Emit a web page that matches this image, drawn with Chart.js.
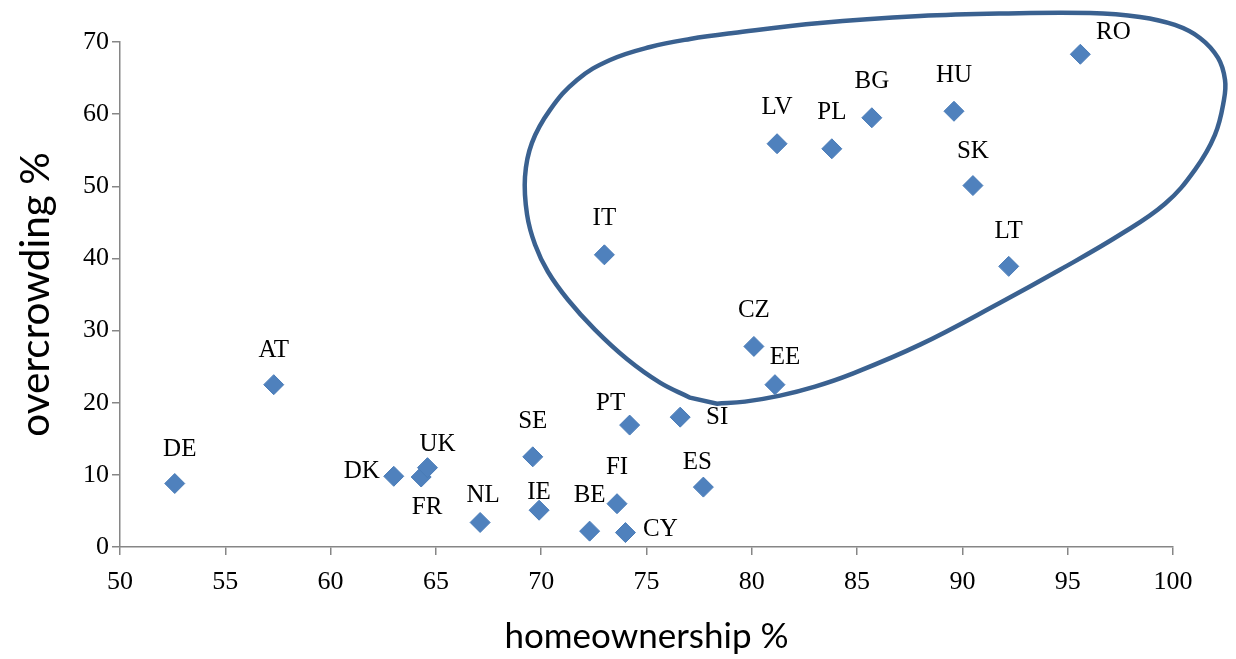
<!DOCTYPE html>
<html>
<head>
<meta charset="utf-8">
<script src="https://cdn.jsdelivr.net/npm/chart.js@4"></script>
<style>
  html, body { margin: 0; padding: 0; background: #ffffff; }
  #wrap { width: 1236px; height: 659px; position: relative; }
</style>
</head>
<body>
<div id="wrap"><canvas id="c"></canvas></div>
<script>
// ---- data ----
const countries = ['DE','AT','DK','FR','UK','NL','SE','IE','BE','FI','CY','ES','PT','SI','IT','CZ','EE','LV','PL','BG','HU','SK','LT','RO'];
const homeownership = [52.6,57.3,63.0,64.3,64.6,67.1,69.6,69.9,72.3,73.6,74.0,77.7,74.2,76.6,73.0,80.1,81.1,81.2,83.8,85.7,89.6,90.5,92.2,95.6];
const overcrowding  = [8.8,22.5,9.8,9.7,11.0,3.4,12.5,5.1,2.2,6.0,2.0,8.3,16.9,18.0,40.5,27.8,22.5,55.9,55.2,59.5,60.4,50.1,38.9,68.3];

// closed outline drawn around the high-overcrowding group (data units, clockwise from the bottom)
const groupX = [78.35,79.68,81.34,83.00,84.66,87.99,91.79,94.63,97.48,99.62,101.04,101.99,102.42,102.47,102.14,101.28,100.09,98.43,96.06,91.79,87.99,83.24,79.11,77.07,75.17,73.27,71.70,70.42,69.56,69.23,69.33,69.71,70.32,71.27,72.55,74.07,75.64,77.07];
const groupY = [19.87,20.15,20.98,22.23,23.89,28.05,33.86,38.43,43.28,47.57,52.28,57.13,61.98,64.75,67.79,70.56,72.36,73.47,74.02,73.95,73.60,72.64,71.25,70.42,69.31,67.51,64.74,60.59,56.02,51.31,46.05,41.89,38.15,34.27,30.12,26.05,22.78,20.70];

const xTicks = [50,55,60,65,70,75,80,85,90,95,100];
const yTicks = [0,10,20,30,40,50,60,70];

// label placement (pixel offsets from marker centre)
const labelOffsets = [[5,-34],[0,-34],[-32,-5],[6,30],[10,-23],[3,-27],[0,-35],[0,-18],[0,-36],[0,-36],[35,-3],[-6,-25],[-19,-22],[37,0],[0,-36],[0,-36],[10,-27],[0,-36],[0,-36],[0,-36],[0,-36],[0,-34],[0,-35],[33,-22]];

// ---- build ----
const points = homeownership.map((x, i) => ({ x: x, y: overcrowding[i] }));
const outline = groupX.map((x, i) => ({ x: x, y: groupY[i] }));

const axisColor = '#868686';
const serif = "'Liberation Serif', 'DejaVu Serif', serif";
const sans = "Lato, 'Open Sans', 'Liberation Sans', sans-serif";

// make the outline a smooth closed loop
const loopPlugin = {
  id: 'closedLoop',
  beforeDatasetDraw(chart, args) {
    if (args.index !== 0) return;
    const line = args.meta.dataset;
    if (line && !line._fullLoop) {
      line._loop = true;
      line._fullLoop = true;
      line._pointsUpdated = false;
      line._segments = undefined;
      line._path = undefined;
    }
  }
};

const labelPlugin = {
  id: 'pointLabels',
  afterDatasetsDraw(chart) {
    const meta = chart.getDatasetMeta(1);
    const ctx = chart.ctx;
    ctx.save();
    ctx.font = "25px " + serif;
    ctx.fillStyle = '#000000';
    ctx.textAlign = 'center';
    ctx.textBaseline = 'middle';
    meta.data.forEach((el, i) => {
      const o = labelOffsets[i];
      ctx.fillText(countries[i], el.x + o[0], el.y + o[1]);
    });
    ctx.restore();
  }
};

new Chart(document.getElementById('c'), {
  type: 'scatter',
  data: {
    datasets: [
      {
        label: 'group',
        data: outline,
        showLine: true,
        tension: 0.4,
        capBezierPoints: false,
        borderColor: '#3A6190',
        borderWidth: 4.5,
        pointRadius: 0,
        fill: false,
        clip: false,
        order: 2
      },
      {
        label: 'countries',
        data: points,
        pointStyle: 'rectRot',
        pointRadius: 10,
        pointBackgroundColor: '#4F81BD',
        pointBorderColor: '#4A7CB8',
        pointBorderWidth: 1,
        showLine: false,
        order: 1
      }
    ]
  },
  options: {
    responsive: true,
    maintainAspectRatio: false,
    animation: false,
    devicePixelRatio: 1,
    layout: { padding: { top: 42, right: 63, left: 0, bottom: 0 } },
    plugins: { legend: { display: false }, tooltip: { enabled: false } },
    scales: {
      x: {
        type: 'linear',
        min: 50, max: 100,
        afterBuildTicks: (s) => { s.ticks = xTicks.map(v => ({ value: v })); },
        afterFit: (s) => { s.height = 112; },
        ticks: { color: '#000000', font: { family: serif, size: 26 }, padding: 12 },
        grid: { drawOnChartArea: false, drawTicks: true, tickLength: 8, color: axisColor, lineWidth: 1.5 },
        border: { display: true, color: axisColor, width: 1.5 },
        title: { display: true, text: 'homeownership %', color: '#000000', font: { family: sans, size: 35 }, padding: { top: 0, bottom: 1.5 } }
      },
      y: {
        type: 'linear',
        min: 0, max: 70,
        afterBuildTicks: (s) => { s.ticks = yTicks.map(v => ({ value: v })); },
        afterFit: (s) => { s.width = 120; },
        ticks: { color: '#000000', font: { family: serif, size: 26 }, padding: 3 },
        grid: { drawOnChartArea: false, drawTicks: true, tickLength: 8, color: axisColor, lineWidth: 1.5 },
        border: { display: true, color: axisColor, width: 1.5 },
        title: { display: true, text: 'overcrowding %', color: '#000000', font: { family: sans, size: 40.5 }, padding: { top: 11.5, bottom: 0 } }
      }
    }
  },
  plugins: [loopPlugin, labelPlugin]
});
</script>
</body>
</html>
